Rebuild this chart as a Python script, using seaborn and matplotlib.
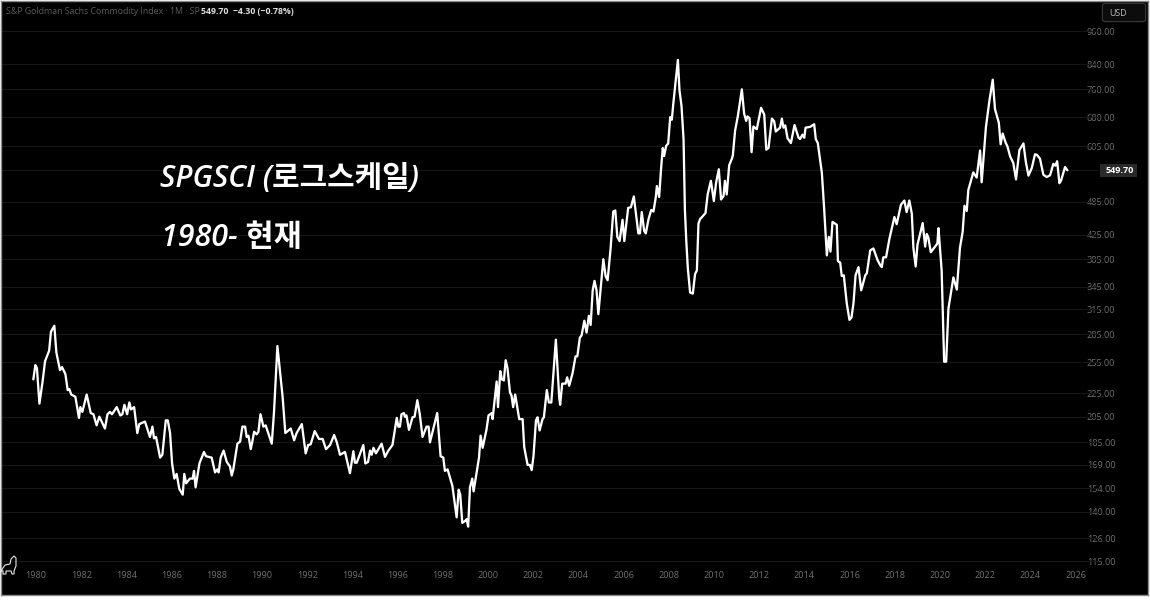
import matplotlib
matplotlib.use("Agg")
import matplotlib.pyplot as plt
from matplotlib.lines import Line2D
from matplotlib.patches import FancyBboxPatch, Rectangle
import pandas as pd
import seaborn as sns

years = [
 1979.88,1979.97,1980.04,1980.15,1980.29,1980.40,1980.58,1980.66,1980.81,1980.90,1981.06,1981.15,1981.30,1981.40,1981.47,1981.56,1981.74,1981.90,1981.96,
 1982.05,1982.24,1982.42,1982.54,1982.68,1982.80,1983.05,1983.16,1983.27,1983.36,1983.57,1983.73,1983.82,1983.91,1984.03,1984.13,1984.20,1984.34,1984.48,1984.57,1984.82,
 1985.04,1985.15,1985.22,1985.31,1985.49,1985.59,1985.74,1985.83,1985.93,1986.02,1986.12,1986.22,1986.34,1986.49,1986.56,1986.64,1986.81,1986.93,1986.99,
 1987.06,1987.23,1987.43,1987.52,1987.77,1987.92,1988.02,1988.08,1988.17,1988.30,1988.44,1988.58,1988.66,1988.73,1988.91,1989.03,1989.13,1989.25,1989.32,1989.40,1989.50,1989.57,1989.65,1989.76,1989.84,1989.93,
 1990.06,1990.16,1990.43,1990.53,1990.68,1990.91,1991.03,1991.27,1991.42,1991.53,1991.76,1991.93,1992.04,1992.15,1992.33,1992.52,1992.68,1992.83,1993.01,1993.19,1993.30,1993.45,1993.67,1993.89,
 1994.04,1994.11,1994.19,1994.48,1994.57,1994.69,1994.78,1994.85,1994.93,1995.04,1995.29,1995.44,1995.59,1995.77,1995.96,1996.03,1996.10,
 1996.17,1996.28,1996.32,1996.39,1996.50,1996.66,1996.75,1996.87,1996.98,1997.10,1997.28,1997.37,1997.43,1997.75,1997.90,1998.02,1998.09,1998.21,1998.42,1998.61,1998.70,1998.77,1998.86,1998.98,
 1999.05,1999.12,1999.20,1999.30,1999.36,1999.60,1999.67,1999.76,1999.93,2000.02,2000.16,2000.20,2000.38,2000.44,2000.54,2000.61,2000.70,2000.78,2000.86,2000.97,
 2001.04,2001.11,2001.20,2001.29,2001.38,2001.53,2001.60,2001.75,2001.85,2001.93,2002.01,2002.12,2002.19,2002.28,2002.41,2002.47,2002.60,2002.69,2002.80,
 2003.00,2003.15,2003.19,2003.28,2003.43,2003.50,2003.59,2003.74,2003.87,2003.95,2004.06,2004.14,2004.26,2004.36,2004.46,2004.54,2004.63,2004.71,2004.80,2004.88,
 2005.10,2005.20,2005.29,2005.42,2005.54,2005.63,2005.72,2005.82,2005.95,2006.03,2006.20,2006.32,2006.45,2006.65,2006.72,
 2006.80,2006.91,2006.98,2007.10,2007.22,2007.32,2007.42,2007.47,2007.57,2007.66,2007.73,2007.79,2007.88,2007.97,2008.06,2008.13,2008.20,2008.40,2008.47,2008.56,2008.65,2008.71,2008.77,2008.84,2008.94,
 2009.06,2009.16,2009.24,2009.31,2009.38,2009.53,2009.62,2009.72,2009.86,2009.99,2010.09,2010.21,2010.31,2010.42,2010.48,2010.56,2010.67,2010.79,2010.83,2010.93,
 2011.05,2011.23,2011.33,2011.42,2011.48,2011.57,2011.66,2011.74,2011.89,2012.08,2012.22,2012.31,2012.41,2012.56,2012.66,2012.73,2012.92,2013.00,2013.07,2013.15,2013.25,2013.40,2013.56,2013.74,2013.81,2013.91,2013.99,
 2014.05,2014.25,2014.43,2014.50,2014.59,2014.77,2014.87,2014.99,2015.08,2015.15,2015.24,2015.43,2015.48,2015.58,2015.65,2015.74,2015.87,2015.99,
 2016.08,2016.17,2016.26,2016.39,2016.51,2016.69,2016.76,2016.91,2017.05,2017.23,2017.35,
 2017.42,2017.49,2017.61,2017.76,2017.98,2018.08,2018.27,2018.42,2018.52,2018.64,2018.75,2018.82,2018.92,2019.00,2019.23,2019.34,2019.41,2019.48,2019.59,2019.88,2019.93,
 2020.07,2020.18,2020.27,2020.37,2020.59,2020.74,2020.88,2021.00,2021.08,2021.18,2021.25,2021.47,2021.62,2021.77,2021.84,2022.03,2022.18,2022.33,2022.43,2022.60,2022.68,2022.77,2022.90,2022.98,
 2023.10,2023.24,2023.36,2023.51,2023.69,2023.79,2023.91,2024.06,2024.20,2024.28,2024.42,2024.57,2024.72,2024.87,2025.01,2025.10,2025.18,2025.28,2025.35,2025.53,2025.63,
]
values = [
 238,252,249,216,236,256,267,288,295,265,247,250,243,228,229,224,222,204,213,
 209,224,208,207,198,205,195.5,207,209,207,213,206,207,215,207,217,211,213,192,199,201,
 189,197,188,189,174,176,202,202,192,170,160,163,153.5,150,163,157,160,160,165,
 154.5,170,178,175,174,164,166,164,174,179,171,168,162,166,184,185.5,197,197,189,190,180,185.5,193,191,193,207,
 197,198,184,209,272,222,192,195.5,186.5,192,199,177,183,183.5,193.5,187.5,187.5,180,183,190.5,185.5,176,178,163.5,
 178.5,170.5,170.5,183,170,171,179,176,181,177,184,174.5,179,183,204,197,197,
 207,208,205,206,194.5,204.5,205,219,207,189,197,197,185,208,175,174,165,166,155.5,137,153,150,134,135,
 136,132,154.5,160,152,174,190,181,194.5,206,208,203,236,213,246,238,237,257,249,226,
 223,213,224,213,203,203,181.5,169,169,165.5,175,202,204.5,194,203,204.5,228,217,217,
 279,221,215,234,234,240,232,244,261,261,281,284,301,287,307,296,340,353,340,309,
 385,360,354,401,466,468,421,414,451,414,473,474,495,427,427,
 465,431,427,452,469,466,493,516,494,556,601,582,606,612,680,673,720,855,757,711,622,469,415,371,337,
 335.5,363,368,444,452,459,463,500,527,486,523,552,489,496,527,499,561,576,583,644,
 682,760,690,670,682,677,591,655,648,706,687,597,601,676,669,642,652,676,652,658,625,613,659,626,623,634,626,
 652,654,661,623,613,544,472,391,421,397,447,442,382,380,360,361,323,302,
 305,323,361,373,340,361,364,399,402,384,376,
 373,388,388,418,456,443,479,487,465,487,462,403,374,408,445,405,426,420,396,410,436,
 368,255.5,255.5,316,358,341,403,430,477,467,508,545,534,595,524,654,725,790,702,665,610,637,614,605,
 581,566,530,596,612,570,538,555,586,585,576,540,535,539,564,560,570,522,527,557,549.7,
]
y_ticks = [960,840,760,680,605,485,425,385,345,315,285,255,225,205,185,169,154,140,126,115]
x_ticks = list(range(1980, 2028, 2))
title_name = "S&P Goldman Sachs Commodity Index · 1M · SP"
title_vals = "549.70  −4.30 (−0.78%)"
last_price = "549.70"

W, H = 1150, 602
sns.set_theme(style="dark")
plt.rcParams["font.family"] = ["Open Sans", "Noto Sans CJK KR", "DejaVu Sans"]
fig = plt.figure(figsize=(W/100, H/100), dpi=100, facecolor="white")
L, R, T, B = 1, 1148, 1, 595
ax = fig.add_axes([L/W, 1-B/H, (R-L)/W, (B-T)/H], facecolor="black")
df = pd.DataFrame({"year": years, "value": values})
sns.lineplot(data=df, x="year", y="value", color="white", lw=1.65, estimator=None, sort=False, ax=ax, zorder=5)
ax.set_yscale("log")
ax.set_xlim(1978.45, 2029.2)
ax.set_ylim(100.4, 1082.5)
ax.set_xlabel(""); ax.set_ylabel("")
ax.minorticks_off()
ax.grid(False)
for v in y_ticks + [549.7]:
    ax.axhline(v, xmin=0, xmax=(1098-L)/(R-L), color="#161616", lw=0.8, zorder=1)
ax.yaxis.tick_right()
ax.set_yticks(y_ticks)
ax.set_yticklabels([f"{v:.2f}" for v in y_ticks])
ax.set_xticks(x_ticks)
ax.set_xticklabels([str(x) for x in x_ticks])
ax.tick_params(axis="y", length=0, pad=-44, labelsize=6.6, labelcolor="#707070", which="both")
ax.tick_params(axis="x", length=0, pad=-17, labelsize=6.6, labelcolor="#707070")
for s in ax.spines.values():
    s.set_color("#8a8a8a"); s.set_linewidth(1.0); s.set_visible(True)

def fx(x): return x/W
def fy(y): return 1-y/H

fig.text(fx(160), fy(179), "SPGSCI (로그스케일)", color="white", fontsize=21.5, style="italic", weight="semibold", va="center", ha="left", zorder=10)
fig.text(fx(161), fy(238), "1980- 현재", color="white", fontsize=22, style="italic", weight="semibold", va="center", ha="left", zorder=10)
fig.text(fx(6), fy(11), title_name, color="#5c5c5c", fontsize=6.3, va="center", ha="left")
fig.text(fx(201), fy(11), title_vals, color="#e0e0e0", fontsize=6.3, weight="bold", va="center", ha="left")

fig.add_artist(FancyBboxPatch((fx(1103.5), fy(21)), 41/W, 17/H, boxstyle="round,pad=0.001,rounding_size=0.003",
                              transform=fig.transFigure, fc="#0c0c0c", ec="#3a3a3a", lw=0.8, mutation_aspect=H/W*1.9))
fig.text(fx(1109), fy(13.5), "USD", color="#b8b8b8", fontsize=6.4, va="center", ha="left")

fig.add_artist(Rectangle((fx(1100), fy(177)), 36.5/W, 13/H, transform=fig.transFigure, fc="#2a2a2a", ec="none", zorder=8))
fig.text(fx(1105.5), fy(170.5), last_price, color="white", fontsize=6.6, weight="bold", va="center", ha="left", zorder=9)

dino = [(1,571),(5,565),(10,564),(11,559),(14,556),(16,558),(16,566),(14,571),(14,574),(12,574),(11,571),(6,571),(6,574),(3,574),(3,571),(1,571)]
fig.add_artist(Line2D([fx(p[0]) for p in dino], [fy(p[1]) for p in dino], transform=fig.transFigure, color="#e8e8e8", lw=0.8, zorder=9))

fig.savefig("out.png", dpi=100, facecolor="white")
